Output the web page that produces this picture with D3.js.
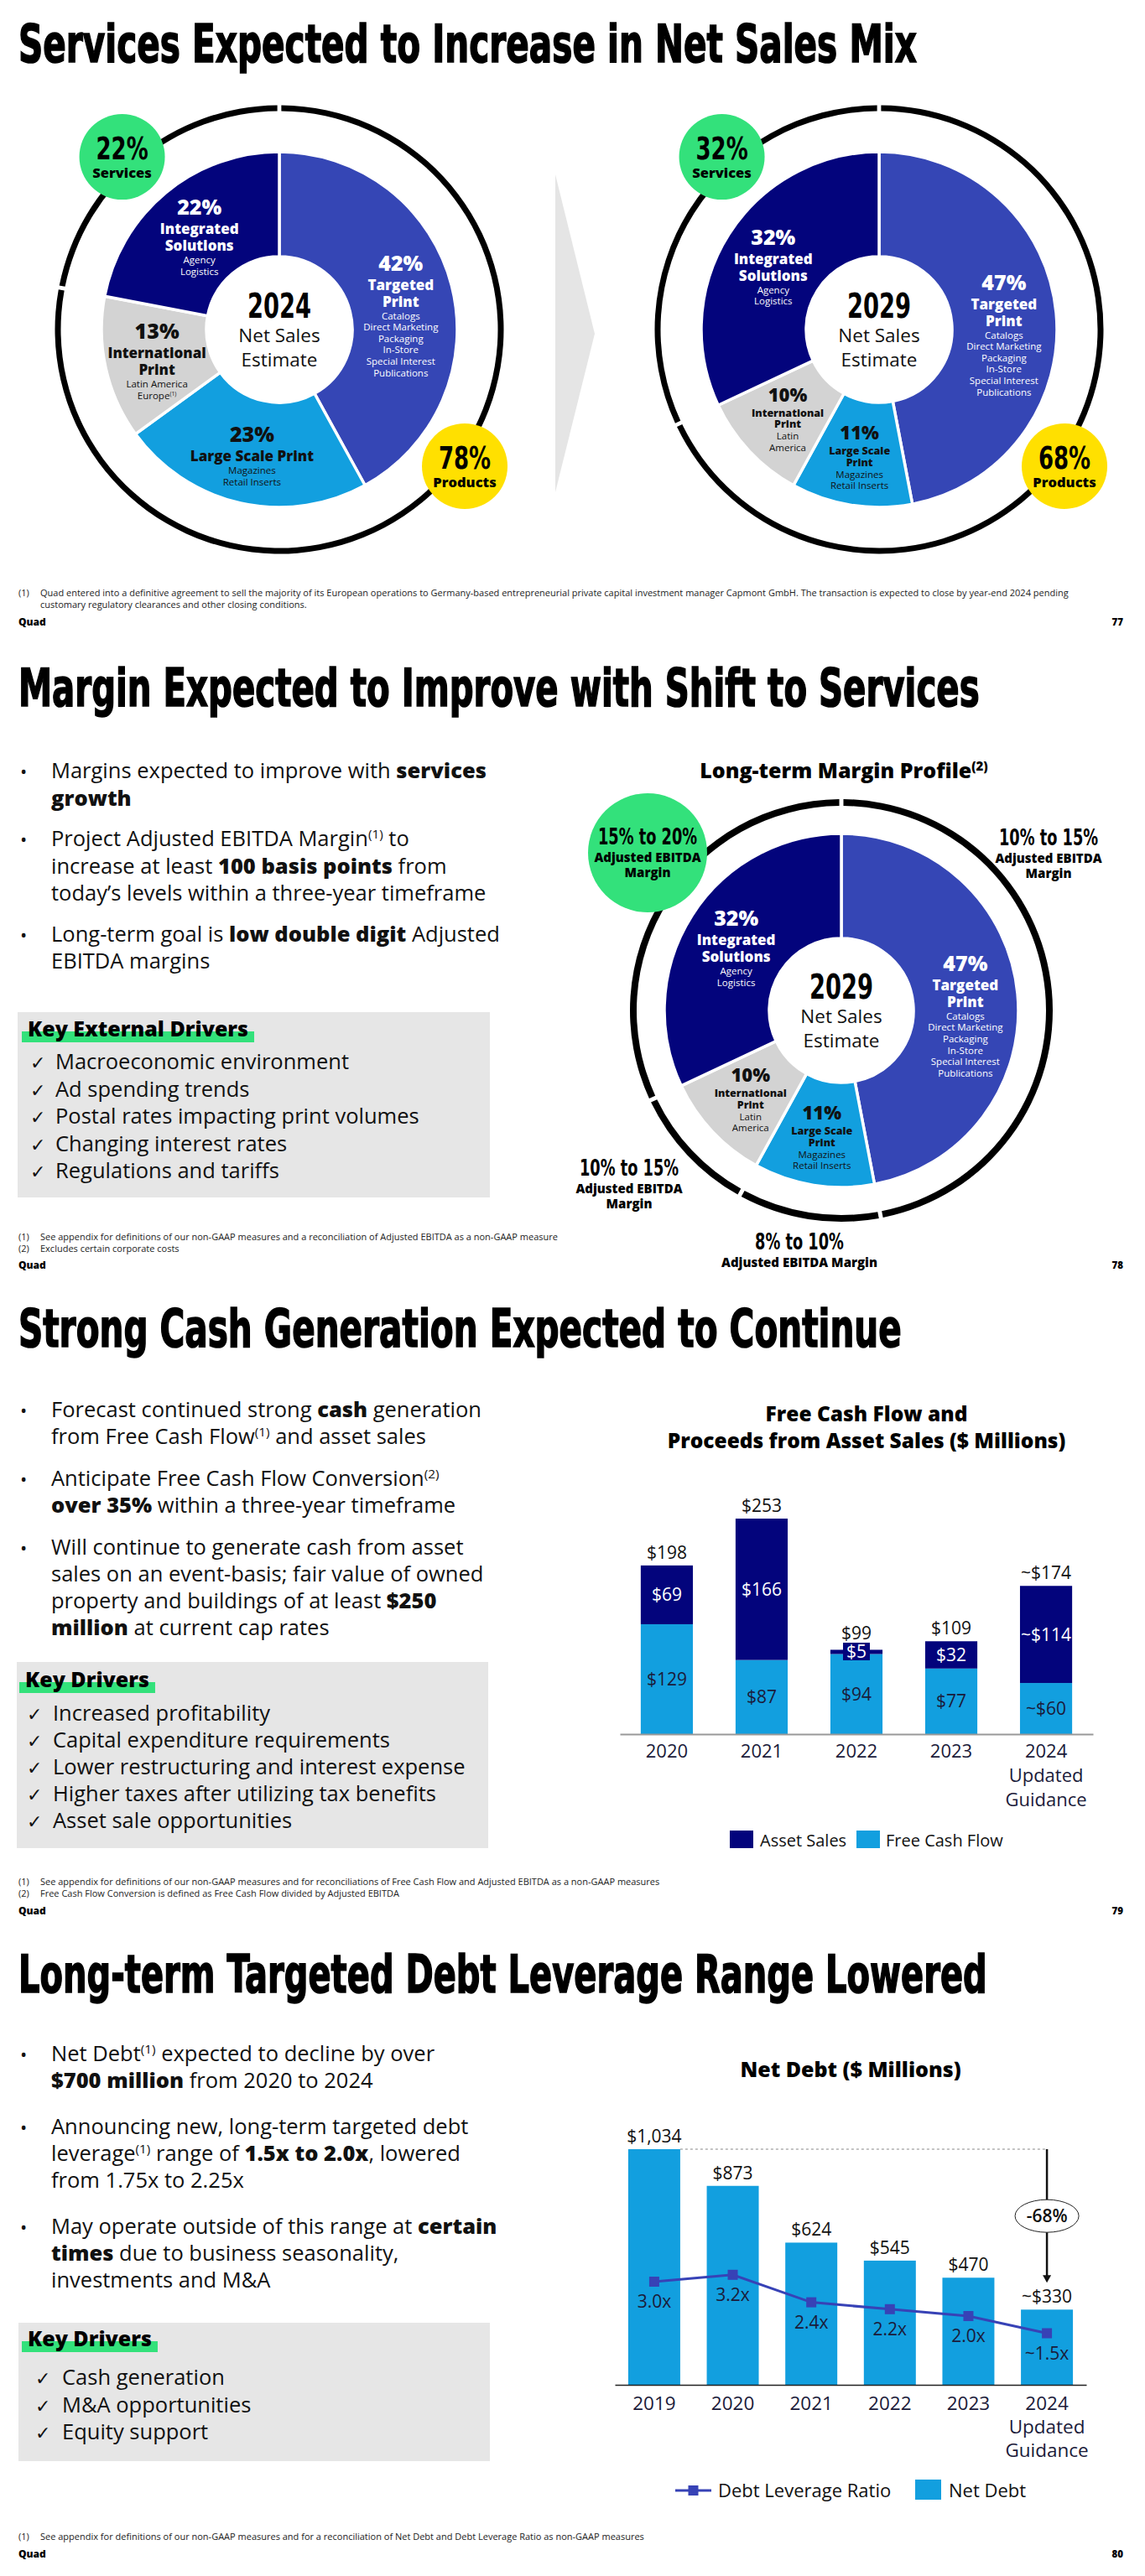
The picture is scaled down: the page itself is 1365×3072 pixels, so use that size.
<!DOCTYPE html>
<html lang="en">
<head>
<meta charset="utf-8">
<title>Quad - Net Sales Mix, Margins, Cash and Debt</title>
<script src="https://cdn.jsdelivr.net/npm/d3@7/dist/d3.min.js"></script>
<style>
  body { margin: 0; background: #fff; }
  text { font-family: 'Open Sans', sans-serif; }
</style>
</head>
<body>
<script>
// ---------- data ----------
var mixYears = ["2024", "2029"];
var mixCategories = ["Targeted Print", "Large Scale Print", "International Print", "Integrated Solutions"];
var mix2024 = [42, 23, 13, 22];
var mix2029 = [47, 11, 10, 32];
var names2024 = [["Targeted", "Print"], ["Large Scale Print"], ["International", "Print"], ["Integrated", "Solutions"]];
var names2029 = [["Targeted", "Print"], ["Large Scale", "Print"], ["International", "Print"], ["Integrated", "Solutions"]];
var details2024 = [["Catalogs", "Direct Marketing", "Packaging", "In-Store", "Special Interest", "Publications"],
                   ["Magazines", "Retail Inserts"], ["Latin America", "Europe^(1)^"], ["Agency", "Logistics"]];
var details2029 = [["Catalogs", "Direct Marketing", "Packaging", "In-Store", "Special Interest", "Publications"],
                   ["Magazines", "Retail Inserts"], ["Latin", "America"], ["Agency", "Logistics"]];
var servicesShare = [22, 32];
var productsShare = [78, 68];
var marginRanges = ["10% to 15%", "8% to 10%", "10% to 15%", "15% to 20%"];
var marginNotes = [["Adjusted EBITDA", "Margin"], ["Adjusted EBITDA Margin"], ["Adjusted EBITDA", "Margin"], ["Adjusted EBITDA", "Margin"]];

var fcfYears = ["2020", "2021", "2022", "2023", "2024"];
var fcfTickLabels = [["2020"], ["2021"], ["2022"], ["2023"], ["2024", "Updated", "Guidance"]];
var freeCashFlow = [129, 87, 94, 77, 60];
var assetSales = [69, 166, 5, 32, 114];
var fcfTotals = [198, 253, 99, 109, 174];
var fcfApprox = [false, false, false, false, true];

var debtYears = ["2019", "2020", "2021", "2022", "2023", "2024"];
var debtTickLabels = [["2019"], ["2020"], ["2021"], ["2022"], ["2023"], ["2024", "Updated", "Guidance"]];
var netDebt = [1034, 873, 624, 545, 470, 330];
var leverageRatio = [3.0, 3.2, 2.4, 2.2, 2.0, 1.5];
var debtApprox = [false, false, false, false, false, true];

// ---------- text ----------
var marginBullets = [
  ["Margins expected to improve with **services**", "**growth**"],
  ["Project Adjusted EBITDA Margin^(1)^ to", "increase at least **100 basis points** from", "today\u2019s levels within a three-year timeframe"],
  ["Long-term goal is **low double digit** Adjusted", "EBITDA margins"]
];
var marginDrivers = ["Macroeconomic environment", "Ad spending trends", "Postal rates impacting print volumes",
                     "Changing interest rates", "Regulations and tariffs"];
var cashBullets = [
  ["Forecast continued strong **cash** generation", "from Free Cash Flow^(1)^ and asset sales"],
  ["Anticipate Free Cash Flow Conversion^(2)^", "**over 35%** within a three-year timeframe"],
  ["Will continue to generate cash from asset", "sales on an event-basis; fair value of owned",
   "property and buildings of at least **$250**", "**million** at current cap rates"]
];
var cashDrivers = ["Increased profitability", "Capital expenditure requirements", "Lower restructuring and interest expense",
                   "Higher taxes after utilizing tax benefits", "Asset sale opportunities"];
var debtBullets = [
  ["Net Debt^(1)^ expected to decline by over", "**$700 million** from 2020 to 2024"],
  ["Announcing new, long-term targeted debt", "leverage^(1)^ range of **1.5x to 2.0x**, lowered", "from 1.75x to 2.25x"],
  ["May operate outside of this range at **certain**", "**times** due to business seasonality,", "investments and M&A"]
];
var debtDrivers = ["Cash generation", "M&A opportunities", "Equity support"];

// ---------- setup ----------
var svg = d3.select("body").append("svg").attr("width", 1365).attr("height", 3072);

var NAVY = "#03047C", MID = "#3546B5", LIGHT = "#129FDF", GRAY = "#D3D3D3",
    GREEN = "#33E17B", YELLOW = "#FFE000", PANEL = "#E6E6E6", INK = "#111111", LINE = "#3742B6";
var HEAD = "'DejaVu Sans Condensed', 'Liberation Sans Narrow', sans-serif";
var CHECK = "'DejaVu Sans', sans-serif";
var segColors = [MID, LIGHT, GRAY, NAVY];
var segInk = ["#fff", INK, INK, "#fff"];

// text with **bold** and ^superscript^ parts
function addText(g, x, y, str, size, o) {
  o = o || {};
  var t = g.append("text").attr("x", x).attr("y", y).attr("font-size", size)
    .attr("font-weight", o.weight || 400).attr("fill", o.fill || INK)
    .attr("text-anchor", o.anchor || "start");
  if (o.family) t.style("font-family", o.family);
  var raised = false;
  str.split(/(\*\*[^*]+\*\*|\^[^\^]+\^)/).forEach(function(part) {
    if (!part) return;
    var s = t.append("tspan");
    if (part.charAt(0) === "^") {
      s.attr("font-size", size * 0.6).attr("dy", -size * 0.36).text(part.slice(1, -1));
      raised = true;
      return;
    }
    if (part.indexOf("**") === 0) s.attr("font-weight", 800).text(part.slice(2, -2));
    else s.text(part);
    if (raised) { s.attr("dy", size * 0.36); raised = false; }
  });
  return t;
}

// squeeze a text horizontally about its x anchor (condensed headline look)
function squeeze(t, k, target) {
  var w = t.node().getComputedTextLength();
  var s = target ? target / w : k;
  var x = +t.attr("x");
  t.attr("transform", "translate(" + x + ",0) scale(" + s + ",1) translate(" + (-x) + ",0)");
  return t;
}

function headText(g, x, y, str, size) {
  var t = addText(g, x, y, str, size, {anchor: "middle", weight: 700, family: HEAD, fill: "#000"});
  return squeeze(t, 0.76);
}

function polar(deg, r) {
  var a = deg * Math.PI / 180;
  return [r * Math.sin(a), -r * Math.cos(a)];
}

function title(y, str, w) {
  var t = svg.append("text").attr("x", 22).attr("y", y)
    .style("font-family", HEAD).attr("font-weight", 700).attr("font-size", 62)
    .attr("fill", "#000").attr("stroke", "#000").attr("stroke-width", 1.6)
    .text(str);
  squeeze(t, null, w);
}

function footer(notes, y0, quadY, page) {
  notes.forEach(function(n, i) {
    if (n[0]) addText(svg, 22, y0 + i * 13.5, n[0], 11, {fill: "#222"});
    addText(svg, 48, y0 + i * 13.5, n[1], 11, {fill: "#222"});
  });
  addText(svg, 22, quadY, "Quad", 12, {weight: 800, fill: "#000"});
  addText(svg, 1339, quadY, page, 11.5, {weight: 800, anchor: "end", fill: "#000"});
}

function bullets(list, y0, lh, gap) {
  var y = y0;
  list.forEach(function(lines) {
    addText(svg, 24, y, "\u2022", 22);
    lines.forEach(function(l, k) { addText(svg, 61, y + k * lh, l, 25.5); });
    y += lines.length * lh + gap;
  });
}

function keyBox(box, heading, items, o) {
  svg.append("rect").attr("x", box[0]).attr("y", box[1]).attr("width", box[2]).attr("height", box[3]).attr("fill", PANEL);
  var hl = svg.append("rect").attr("fill", GREEN);
  var ht = addText(svg, o.headX, o.headY, heading, 25, {weight: 800, fill: "#000"});
  var len = ht.node().getComputedTextLength();
  hl.attr("x", o.headX - 7).attr("y", o.headY - 6).attr("width", len + 14).attr("height", 13);
  items.forEach(function(it, i) {
    addText(svg, o.checkX, o.itemY + i * o.lh, "\u2713", 22, {family: CHECK});
    addText(svg, o.itemX, o.itemY + i * o.lh, it, 25.5);
  });
}

// ---------- donuts ----------
var pie = d3.pie().sort(null).value(function(d) { return d; });

function sliceLabel(g, arc, s, i, values, names, details) {
  var compact = values[i] <= 11;
  var lines = [{text: values[i] + "%", size: compact ? 22 : 25, weight: 800, adv: 0}];
  names[i].forEach(function(n, k) {
    lines.push({text: n, size: compact ? 12.5 : 17, weight: 800, adv: k === 0 ? (compact ? 18 : 23) : (compact ? 13.5 : 20)});
  });
  details[i].forEach(function(n, k) {
    lines.push({text: n, size: 11.5, weight: 400, adv: k === 0 ? (compact ? 14 : 15) : 13.6});
  });
  var base = 0;
  lines.forEach(function(l) { base += l.adv; l.y = base; });
  var top = -lines[0].size * 0.72, bottom = base + 2, h = bottom - top;
  var c = arc.centroid(s);
  var shift = c[1] + 6 + Math.max(0, h - 90) * 0.28 - (top + bottom) / 2;
  lines.forEach(function(l) {
    addText(g, c[0], l.y + shift, l.text, l.size, {anchor: "middle", weight: l.weight, fill: segInk[i]});
  });
}

function centerLabel(g, year) {
  headText(g, 0, -14, year, 40);
  addText(g, 0, 15, "Net Sales", 22.5, {anchor: "middle"});
  addText(g, 0, 44, "Estimate", 22.5, {anchor: "middle"});
}

function badge(g, p, color, big, small) {
  g.append("circle").attr("cx", p[0]).attr("cy", p[1]).attr("r", 51).attr("fill", color);
  headText(g, p[0], p[1] + 3, big, 38);
  addText(g, p[0], p[1] + 25, small, 16.5, {anchor: "middle", weight: 800, fill: "#000"});
}

function slicePaths(g, slices, arc) {
  g.selectAll(".slice").data(slices).enter().append("path")
    .attr("class", "slice")
    .attr("d", arc)
    .attr("fill", function(d, i) { return segColors[i]; })
    .attr("stroke", "#fff").attr("stroke-width", 3.5);
}

function mixDonut(cx, cy, k, values, names, details) {
  var g = svg.append("g").attr("transform", "translate(" + cx + "," + cy + ")");
  var slices = pie(values);
  var arc = d3.arc().innerRadius(87).outerRadius(212);
  var ring = d3.arc().innerRadius(260.5).outerRadius(267.5).padAngle(0.018).padRadius(264);
  var split = slices[3].startAngle;
  g.selectAll(".ring").data([{startAngle: split - 2 * Math.PI, endAngle: 0}, {startAngle: 0, endAngle: split}])
    .enter().append("path").attr("class", "ring").attr("d", ring).attr("fill", "#000");
  slicePaths(g, slices, arc);
  slices.forEach(function(s, i) { sliceLabel(g, arc, s, i, values, names, details); });
  centerLabel(g, mixYears[k]);
  badge(g, polar(317.7, 278.5), GREEN, servicesShare[k] + "%", "Services");
  badge(g, polar(126.4, 274.6), YELLOW, productsShare[k] + "%", "Products");
}

function marginDonut(cx, cy) {
  var g = svg.append("g").attr("transform", "translate(" + cx + "," + cy + ")");
  var slices = pie(mix2029);
  var arc = d3.arc().innerRadius(86).outerRadius(211);
  var ring = d3.arc().innerRadius(244).outerRadius(252).padAngle(0.02).padRadius(248);
  g.selectAll(".ring").data(slices).enter().append("path").attr("class", "ring").attr("d", ring).attr("fill", "#000");
  slicePaths(g, slices, arc);
  slices.forEach(function(s, i) { sliceLabel(g, arc, s, i, mix2029, names2029, details2029); });
  centerLabel(g, mixYears[1]);

  // block centres of the margin callouts, relative to the donut centre
  var spots = [[247, -187], [-50, 286], [-253, 207], [-231, -188]];
  slices.forEach(function(s, i) {
    var p = spots[i];
    if (i === 3) g.append("circle").attr("cx", p[0]).attr("cy", p[1]).attr("r", 71).attr("fill", GREEN);
    var notes = marginNotes[i];
    var last = 21 + (notes.length - 1) * 18;
    var y0 = p[1] - (last - 19) / 2;
    headText(g, p[0], y0, marginRanges[i], 26);
    notes.forEach(function(n, j) {
      addText(g, p[0], y0 + 21 + j * 18, n, 15, {anchor: "middle", weight: 800, fill: "#000"});
    });
  });
}

// ================= slide 77 =================
title(74, "Services Expected to Increase in Net Sales Mix", 1071);
mixDonut(333, 393, 0, mix2024, names2024, details2024);
svg.append("path").attr("d", "M662,208L709,398L662,587Z").attr("fill", "#E5E5E5");
mixDonut(1048, 393, 1, mix2029, names2029, details2029);
footer([["(1)", "Quad entered into a definitive agreement to sell the majority of its European operations to Germany-based entrepreneurial private capital investment manager Capmont GmbH. The transaction is expected to close by year-end 2024 pending"],
        ["", "customary regulatory clearances and other closing conditions."]], 711, 746, "77");

// ================= slide 78 =================
title(842, "Margin Expected to Improve with Shift to Services", 1146);
bullets(marginBullets, 928, 32.5, 16);
keyBox([21, 1207, 563, 221], "Key External Drivers", marginDrivers,
       {headX: 33, headY: 1236, checkX: 36, itemX: 66, itemY: 1275, lh: 32.5});
addText(svg, 1006, 928, "Long-term Margin Profile^(2)^", 25, {anchor: "middle", weight: 800, fill: "#000"});
marginDonut(1003, 1205);
footer([["(1)", "See appendix for definitions of our non-GAAP measures and a reconciliation of Adjusted EBITDA as a non-GAAP measure"],
        ["(2)", "Excludes certain corporate costs"]], 1479, 1513, "78");

// ================= slide 79 =================
title(1606, "Strong Cash Generation Expected to Continue", 1053);
bullets(cashBullets, 1690, 32, 18);
keyBox([20, 1982, 562, 222], "Key Drivers", cashDrivers,
       {headX: 30, headY: 2012, checkX: 32, itemX: 63, itemY: 2052, lh: 32});

addText(svg, 1033, 1695, "Free Cash Flow and", 24.5, {anchor: "middle", weight: 800, fill: "#000"});
addText(svg, 1033, 1727, "Proceeds from Asset Sales ($ Millions)", 24.5, {anchor: "middle", weight: 800, fill: "#000"});

var fcfRows = fcfYears.map(function(yr, i) {
  return {year: yr, fcf: freeCashFlow[i], asset: assetSales[i], total: fcfTotals[i], approx: fcfApprox[i]};
});
var fx = d3.scaleBand().domain(fcfYears).range([739, 1303]).paddingInner(0.45).paddingOuter(0.22);
var fy = d3.scaleLinear().domain([0, d3.max(fcfTotals)]).range([2068, 1811]);
var fcfStack = d3.stack().keys(["fcf", "asset"])(fcfRows);
var fcfFill = {fcf: LIGHT, asset: NAVY};
var fcfInk = {fcf: "#1b1b3a", asset: "#fff"};
var money = function(v, approx) { return (approx ? "~" : "") + "$" + d3.format(",")(v); };

var fcfG = svg.append("g");
fcfStack.forEach(function(layer) {
  var lg = fcfG.append("g");
  lg.selectAll("rect").data(layer).enter().append("rect")
    .attr("x", function(d) { return fx(d.data.year); })
    .attr("y", function(d) { return fy(d[1]); })
    .attr("width", fx.bandwidth())
    .attr("height", function(d) { return fy(d[0]) - fy(d[1]); })
    .attr("fill", fcfFill[layer.key]);
  layer.forEach(function(d) {
    var cxm = fx(d.data.year) + fx.bandwidth() / 2;
    var mid = (fy(d[0]) + fy(d[1])) / 2;
    var t = addText(lg, cxm, mid + 7.5, money(d.data[layer.key], d.data.approx), 21,
                    {anchor: "middle", fill: fcfInk[layer.key]});
    if (fy(d[0]) - fy(d[1]) < 24) {
      var w = t.node().getComputedTextLength() + 8;
      lg.insert("rect", "text").attr("x", cxm - w / 2).attr("y", mid - 11).attr("width", w).attr("height", 21).attr("fill", fcfFill[layer.key]);
    }
  });
});
fcfRows.forEach(function(d) {
  var yLab = fy(d.total) - 8;
  var mid = (fy(d.fcf) + fy(d.total)) / 2;
  if (fy(d.fcf) - fy(d.total) < 24) yLab = Math.min(yLab, mid - 15);
  addText(fcfG, fx(d.year) + fx.bandwidth() / 2, yLab, money(d.total, d.approx), 21, {anchor: "middle"});
});

var fAxis = svg.append("g").attr("transform", "translate(0,2068)")
  .call(d3.axisBottom(fx).tickSize(0).tickSizeOuter(0));
fAxis.select(".domain").attr("stroke", "#999").attr("stroke-width", 2);
fAxis.selectAll(".tick text").each(function(d, i) {
  var t = d3.select(this).text(null).attr("y", 28).attr("dy", 0).attr("font-size", 22).attr("fill", "#1b1b3a");
  fcfTickLabels[i].forEach(function(l, k) {
    t.append("tspan").attr("x", 0).attr("dy", k === 0 ? 0 : 29).text(l);
  });
});

svg.append("rect").attr("x", 870).attr("y", 2183).attr("width", 28).attr("height", 21).attr("fill", NAVY);
addText(svg, 906, 2202, "Asset Sales", 20);
svg.append("rect").attr("x", 1021).attr("y", 2183).attr("width", 28).attr("height", 21).attr("fill", LIGHT);
addText(svg, 1056, 2202, "Free Cash Flow", 20);

footer([["(1)", "See appendix for definitions of our non-GAAP measures and for reconciliations of Free Cash Flow and Adjusted EBITDA as a non-GAAP measures"],
        ["(2)", "Free Cash Flow Conversion is defined as Free Cash Flow divided by Adjusted EBITDA"]], 2248, 2283, "79");

// ================= slide 80 =================
title(2376, "Long-term Targeted Debt Leverage Range Lowered", 1155);
bullets(debtBullets, 2458, 32, 23);
keyBox([22, 2770, 562, 165], "Key Drivers", debtDrivers,
       {headX: 33, headY: 2798, checkX: 42, itemX: 74, itemY: 2844, lh: 32.5});

addText(svg, 1014, 2477, "Net Debt ($ Millions)", 25, {anchor: "middle", weight: 800, fill: "#000"});

var debtRows = debtYears.map(function(yr, i) {
  return {year: yr, debt: netDebt[i], ratio: leverageRatio[i], approx: debtApprox[i]};
});
var dx = d3.scaleBand().domain(debtYears).range([733, 1295]).paddingInner(0.338).paddingOuter(0.17);
var dy = d3.scaleLinear().domain([0, d3.max(netDebt)]).range([2844, 2563]);
var ry = d3.scaleLinear().domain([0, 3]).range([2844, 2721]);
var mid = function(yr) { return dx(yr) + dx.bandwidth() / 2; };

var dg = svg.append("g");
dg.selectAll(".bar").data(debtRows).enter().append("rect")
  .attr("x", function(d) { return dx(d.year); })
  .attr("y", function(d) { return dy(d.debt); })
  .attr("width", dx.bandwidth())
  .attr("height", function(d) { return dy(0) - dy(d.debt); })
  .attr("fill", LIGHT);
debtRows.forEach(function(d) {
  addText(dg, mid(d.year), dy(d.debt) - 8, money(d.debt, d.approx), 21, {anchor: "middle"});
});

// change from first to last year
var first = debtRows[0], last = debtRows[debtRows.length - 1];
var ax = mid(last.year), yTop = dy(first.debt), yEnd = dy(last.debt) - 32;
dg.append("line").attr("x1", dx(first.year) + dx.bandwidth()).attr("x2", ax)
  .attr("y1", yTop).attr("y2", yTop).attr("stroke", "#888").attr("stroke-width", 1).attr("stroke-dasharray", "3,3");
dg.append("line").attr("x1", ax).attr("x2", ax).attr("y1", yTop).attr("y2", yEnd - 7)
  .attr("stroke", "#111").attr("stroke-width", 2.5);
dg.append("path").attr("d", "M" + (ax - 5) + "," + (yEnd - 9) + "L" + (ax + 5) + "," + (yEnd - 9) + "L" + ax + "," + yEnd + "Z").attr("fill", "#111");
var ey = (yTop + yEnd) / 2;
dg.append("ellipse").attr("cx", ax).attr("cy", ey).attr("rx", 38).attr("ry", 19.5)
  .attr("fill", "#fff").attr("stroke", "#222").attr("stroke-width", 1);
addText(dg, ax, ey + 7.5, Math.round((last.debt / first.debt - 1) * 100) + "%", 21, {anchor: "middle", weight: 600});

// leverage ratio line
dg.append("path").datum(debtRows)
  .attr("d", d3.line().x(function(d) { return mid(d.year); }).y(function(d) { return ry(d.ratio); }))
  .attr("fill", "none").attr("stroke", LINE).attr("stroke-width", 3);
dg.selectAll(".mk").data(debtRows).enter().append("rect")
  .attr("x", function(d) { return mid(d.year) - 6; })
  .attr("y", function(d) { return ry(d.ratio) - 6; })
  .attr("width", 12).attr("height", 12).attr("fill", LINE);
debtRows.forEach(function(d) {
  addText(dg, mid(d.year), ry(d.ratio) + 31, (d.approx ? "~" : "") + d3.format(".1f")(d.ratio) + "x", 21,
          {anchor: "middle", fill: "#1b1b3a"});
});

var dAxis = svg.append("g").attr("transform", "translate(0,2844)")
  .call(d3.axisBottom(dx).tickSize(0).tickSizeOuter(0));
dAxis.select(".domain").attr("stroke", "#222").attr("stroke-width", 1.5);
dAxis.selectAll(".tick text").each(function(d, i) {
  var t = d3.select(this).text(null).attr("y", 30).attr("dy", 0).attr("font-size", 22.5).attr("fill", "#1b1b3a");
  debtTickLabels[i].forEach(function(l, k) {
    t.append("tspan").attr("x", 0).attr("dy", k === 0 ? 0 : 28).text(l);
  });
});

svg.append("line").attr("x1", 805).attr("x2", 848).attr("y1", 2970).attr("y2", 2970).attr("stroke", LINE).attr("stroke-width", 3);
svg.append("rect").attr("x", 820.5).attr("y", 2964).attr("width", 12).attr("height", 12).attr("fill", LINE);
addText(svg, 856, 2978, "Debt Leverage Ratio", 22);
svg.append("rect").attr("x", 1091).attr("y", 2957).attr("width", 31).attr("height", 24).attr("fill", LIGHT);
addText(svg, 1131, 2978, "Net Debt", 22);

footer([["(1)", "See appendix for definitions of our non-GAAP measures and for a reconciliation of Net Debt and Debt Leverage Ratio as non-GAAP measures"]], 3029, 3050, "80");
</script>
</body>
</html>
